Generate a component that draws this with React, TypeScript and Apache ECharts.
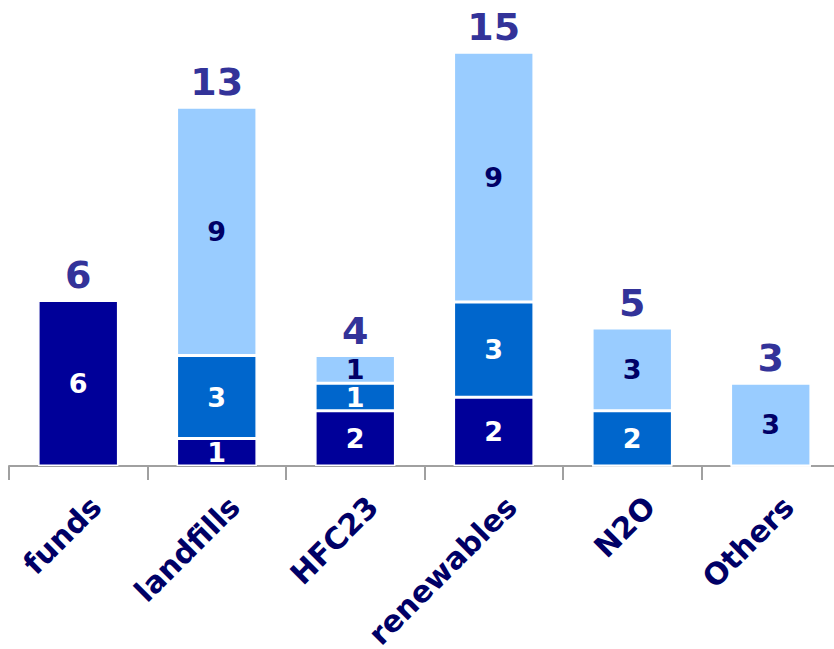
import React, { useEffect, useRef } from "react";
import * as echarts from "echarts";

// Project categories and the three stacked components (labels are rounded)
const categories = ["funds", "landfills", "HFC23", "renewables", "N2O", "Others"];
const darkValues = [6, 1, 2, 2.49, 0, 0];
const midValues = [0, 3, 1, 3.45, 2, 0];
const lightValues = [0, 9, 1, 9.05, 3, 3];

const totals = categories.map((_, i) => darkValues[i] + midValues[i] + lightValues[i]);

const FONT = "DejaVu Sans";

export default function App() {
  const ref = useRef<HTMLDivElement>(null);

  useEffect(() => {
    if (!ref.current) return;
    const chart = echarts.init(ref.current, null, { renderer: "svg" });

    const segLabel = (color: string) => ({
      show: true,
      position: "inside" as const,
      color,
      fontFamily: FONT,
      fontWeight: "bold" as const,
      fontSize: 27,
      formatter: (p: any) => (p.value > 0 ? String(Math.round(p.value)) : ""),
    });

    const seg = (name: string, data: number[], color: string, labelColor: string) => ({
      name,
      type: "bar" as const,
      stack: "total",
      data,
      barWidth: "58%",
      itemStyle: { color, borderColor: "#ffffff", borderWidth: 1.5 },
      label: segLabel(labelColor),
    });

    chart.setOption({
      animation: false,
      grid: {
        left: 9,
        top: 52,
        width: 831,
        bottom: 183,
        containLabel: false,
        outerBoundsMode: "none",
      },
      xAxis: {
        type: "category",
        data: categories,
        offset: 4,
        axisLine: { lineStyle: { color: "#a0a0a0", width: 2 } },
        axisTick: { show: true, length: 14, lineStyle: { color: "#a0a0a0", width: 2 } },
        axisLabel: {
          interval: 0,
          rotate: 45,
          margin: 14,
          align: "right",
          verticalAlign: "top",
          lineHeight: 50,
          color: "#000066",
          fontFamily: FONT,
          fontWeight: "bold",
          fontSize: 30,
        },
      },
      yAxis: {
        type: "value",
        min: 0,
        max: 15,
        show: false,
        splitLine: { show: false },
      },
      series: [
        seg("dark", darkValues, "#000099", "#ffffff"),
        seg("mid", midValues, "#0066cc", "#ffffff"),
        seg("light", lightValues, "#99ccff", "#000066"),
        {
          name: "total",
          type: "bar",
          stack: "total",
          data: categories.map(() => 0),
          barWidth: "58%",
          itemStyle: { color: "transparent" },
          label: {
            show: true,
            position: "top",
            distance: 6,
            color: "#333399",
            fontFamily: FONT,
            fontWeight: "bold",
            fontSize: 38,
            formatter: (p: any) => String(Math.round(totals[p.dataIndex])),
          },
        },
      ],
    });

    return () => chart.dispose();
  }, []);

  return (
    <div
      ref={ref}
      style={{ position: "fixed", left: 0, top: 0, width: 834, height: 649, background: "#ffffff" }}
    />
  );
}
